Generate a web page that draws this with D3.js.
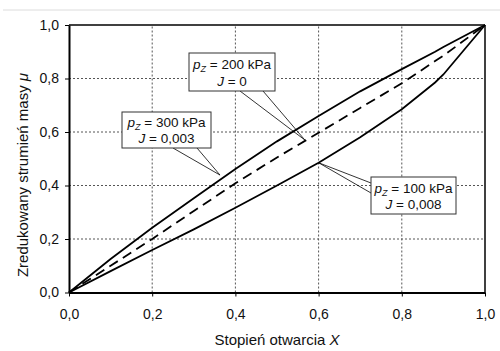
<!DOCTYPE html>
<html><head><meta charset="utf-8">
<script src="https://cdn.jsdelivr.net/npm/d3@7/dist/d3.min.js"></script>
<style>body{margin:0;background:#fff;} svg{display:block;font-family:"Liberation Sans",Arial,sans-serif;}</style>
</head><body>
<script>
const xValues = [0, 0.1, 0.2, 0.3, 0.4, 0.5, 0.6, 0.7, 0.8, 0.88, 0.9, 1.0];
const series300 = [0, 0.125, 0.242, 0.352, 0.462, 0.565, 0.66, 0.752, 0.835, 0.9, 0.918, 1.0];
const series200 = [0, 0.1, 0.2, 0.305, 0.408, 0.505, 0.597, 0.69, 0.782, 0.865, 0.885, 1.0];
const series100 = [0, 0.08, 0.159, 0.236, 0.317, 0.4, 0.485, 0.58, 0.685, 0.785, 0.815, 1.0];
const tickValues = [0, 0.2, 0.4, 0.6, 0.8, 1.0];
const tickLabels = ["0,0", "0,2", "0,4", "0,6", "0,8", "1,0"];
const callouts = [
  {p: "200 kPa", j: "0", box: [189, 53, 86, 38], from: [[240, 91], [263, 91]], x: 0.567, y: 0.57},
  {p: "300 kPa", j: "0,003", box: [122, 112, 89, 36], from: [[173, 148], [197, 148]], x: 0.363, y: 0.439},
  {p: "100 kPa", j: "0,008", box: [371, 177, 85, 37], from: [[371, 183], [371, 193]], x: 0.6, y: 0.485}
];

const W = 500, H = 351;
const svg = d3.select("body").append("svg").attr("width", W).attr("height", H);
const x = d3.scaleLinear().domain([0, 1]).range([69, 485]);
const y = d3.scaleLinear().domain([0, 1]).range([292.5, 25]);

svg.append("line").attr("x1", 3).attr("x2", 500).attr("y1", 10).attr("y2", 10)
  .attr("stroke", "#dcdcdc").attr("stroke-width", 1);

// grid
const grid = svg.append("g").attr("stroke", "#555").attr("stroke-width", 1).attr("stroke-dasharray", "2,2");
tickValues.slice(1, -1).forEach(v => {
  grid.append("line").attr("x1", x(v)).attr("x2", x(v)).attr("y1", y(0)).attr("y2", y(1));
  grid.append("line").attr("x1", x(0)).attr("x2", x(1)).attr("y1", y(v)).attr("y2", y(v));
});

// frame
svg.append("line").attr("x1", x(0)).attr("x2", x(1)).attr("y1", y(1)).attr("y2", y(1)).attr("stroke", "#000").attr("stroke-width", 1.5);
svg.append("line").attr("x1", x(1)).attr("x2", x(1)).attr("y1", y(0)).attr("y2", y(1)).attr("stroke", "#000").attr("stroke-width", 1.5);

const fmt = v => tickLabels[tickValues.findIndex(t => Math.abs(t - v) < 1e-9)];
const xAxis = svg.append("g").attr("transform", `translate(0,${y(0)})`)
  .call(d3.axisBottom(x).tickValues(tickValues).tickFormat(fmt).tickSize(4).tickSizeOuter(0));
const yAxis = svg.append("g").attr("transform", `translate(${x(0)},0)`)
  .call(d3.axisLeft(y).tickValues(tickValues).tickFormat(fmt).tickSize(4).tickSizeOuter(0));
[xAxis, yAxis].forEach(a => {
  a.select(".domain").attr("stroke", "#000").attr("stroke-width", 2);
  a.selectAll(".tick line").attr("stroke", "#000").attr("stroke-width", 1);
  a.selectAll(".tick text").attr("font-size", 14).attr("font-family", "'Liberation Sans',Arial,sans-serif").attr("fill", "#111");
});
xAxis.selectAll(".tick text").attr("dy", "1.4em");
yAxis.selectAll(".tick text").attr("dx", "-3");

// titles
const xt = svg.append("text").attr("x", 277).attr("y", 345).attr("text-anchor", "middle").attr("font-size", 15).attr("fill", "#111");
xt.append("tspan").text("Stopień otwarcia ");
xt.append("tspan").attr("font-style", "italic").text("X");
const yt = svg.append("text").attr("transform", "translate(28,175) rotate(-90)").attr("text-anchor", "middle").attr("font-size", 15).attr("fill", "#111");
yt.append("tspan").text("Zredukowany strumień masy  ");
yt.append("tspan").attr("font-style", "italic").text("μ");

// curves
const line = d3.line().x((d, i) => x(xValues[i])).y(d => y(d));
svg.append("path").attr("d", line(series300)).attr("fill", "none").attr("stroke", "#000").attr("stroke-width", 1.8);
svg.append("path").attr("d", line(series100)).attr("fill", "none").attr("stroke", "#000").attr("stroke-width", 1.8);
svg.append("path").attr("d", line(series200)).attr("fill", "none").attr("stroke", "#000").attr("stroke-width", 1.8).attr("stroke-dasharray", "10,6");

// callouts
callouts.forEach(c => {
  const g = svg.append("g");
  c.from.forEach(f => g.append("line").attr("x1", f[0]).attr("y1", f[1]).attr("x2", x(c.x)).attr("y2", y(c.y)).attr("stroke", "#000").attr("stroke-width", 0.8));
  const [bx, by, bw, bh] = c.box;
  g.append("rect").attr("x", bx).attr("y", by).attr("width", bw).attr("height", bh).attr("fill", "#fff").attr("stroke", "#333").attr("stroke-width", 1);
  const t1 = g.append("text").attr("x", bx + bw / 2).attr("y", by + bh * 0.42).attr("text-anchor", "middle").attr("font-size", 13.5).attr("fill", "#111");
  t1.append("tspan").attr("font-style", "italic").text("p");
  t1.append("tspan").attr("font-style", "italic").attr("font-size", 9).attr("dy", 3).text("Z");
  t1.append("tspan").attr("dy", -3).text(" = " + c.p);
  const t2 = g.append("text").attr("x", bx + bw / 2).attr("y", by + bh * 0.86).attr("text-anchor", "middle").attr("font-size", 13.5).attr("fill", "#111");
  t2.append("tspan").attr("font-style", "italic").text("J");
  t2.append("tspan").text(" = " + c.j);
});
</script>
</body></html>
